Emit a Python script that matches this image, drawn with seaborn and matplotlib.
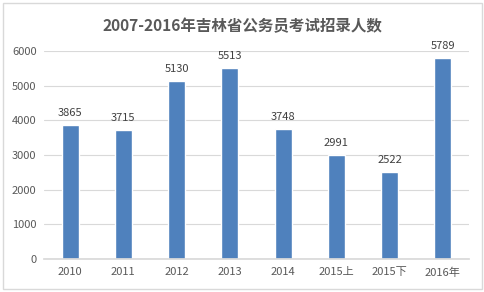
import matplotlib
matplotlib.use("Agg")
import matplotlib.pyplot as plt
import seaborn as sns
import pandas as pd
from matplotlib.patches import Rectangle

categories = ["2010", "2011", "2012", "2013", "2014", "2015上", "2015下", "2016年"]
values = [3865, 3715, 5130, 5513, 3748, 2991, 2522, 5789]
yticks = [0, 1000, 2000, 3000, 4000, 5000, 6000]
title = "2007-2016年吉林省公务员考试招录人数"

sns.set_theme(style="white")
plt.rcParams['font.family'] = ['Noto Sans CJK SC', 'DejaVu Sans']

df = pd.DataFrame({"cat": categories, "val": values})

fig = plt.figure(figsize=(4.85, 2.92), dpi=100)
ax = fig.add_axes([0.0897, 0.113, 0.878, 0.712])
sns.barplot(data=df, x="cat", y="val", color="#4F81BD", saturation=1, width=0.32, ax=ax)

ax.set_ylim(0, 6000)
ax.set_yticks(yticks)
ax.set_yticklabels([str(v) for v in yticks])
ax.set_xlabel("")
ax.set_ylabel("")
ax.yaxis.grid(True, color="#D9D9D9", linewidth=0.8)
ax.set_axisbelow(True)
for s in ["top", "right", "left"]:
    ax.spines[s].set_visible(False)
ax.spines["bottom"].set_color("#D9D9D9")
ax.tick_params(axis="both", length=0, labelsize=8, colors="#595959")
ax.tick_params(axis="x", pad=6)
ax.tick_params(axis="y", pad=5)

for i, v in enumerate(values):
    ax.annotate(str(v), (i, v), xytext=(0, 5), textcoords="offset points",
                ha="center", va="bottom", fontsize=8, color="#404040")

fig.text(0.5, 0.91, title, ha="center", va="center", fontsize=11.2,
         fontweight="bold", color="#595959")

fig.patches.append(Rectangle((0.006, 0.01), 0.988, 0.98, transform=fig.transFigure,
                             fill=False, edgecolor="#D9D9D9", linewidth=1))

fig.savefig("out.png", dpi=100)
